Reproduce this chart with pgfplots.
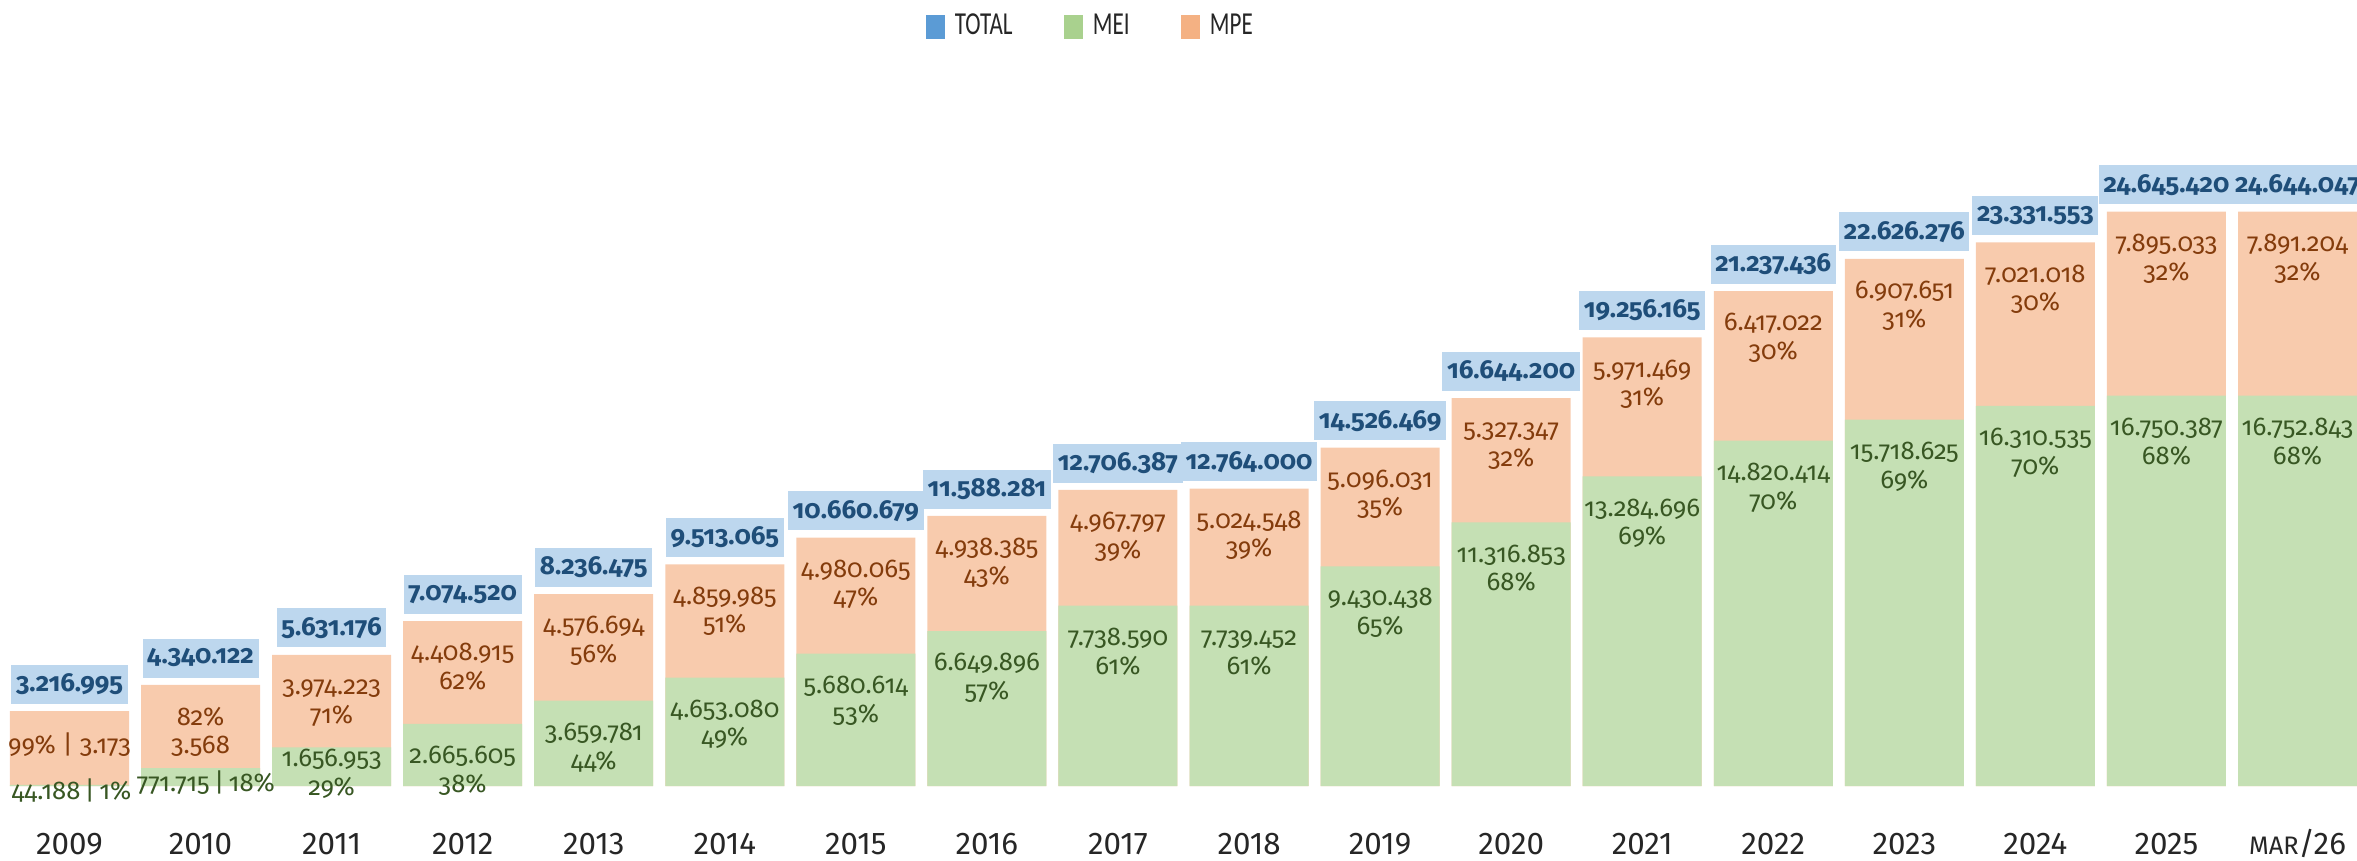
\documentclass[border=0pt]{standalone}
\usepackage{pgfplots}
\pgfplotsset{compat=1.18}
\usepackage{pgfplotstable}
\usepackage{fontspec}
\setmainfont{Fira Sans}
\newfontfamily\lblfont[Numbers=OldStyle]{Fira Sans}
\newfontfamily\legfont[FakeStretch=0.72]{Carlito}
\definecolor{greenF}{HTML}{C5E0B4}
\definecolor{orangeF}{HTML}{F8CBAD}
\definecolor{blueF}{HTML}{BDD7EE}
\definecolor{greenT}{HTML}{385723}
\definecolor{orangeT}{HTML}{843C0C}
\definecolor{blueT}{HTML}{1F4E79}
\definecolor{blueL}{HTML}{5B9BD5}
\definecolor{greenL}{HTML}{A9D18E}
\definecolor{orangeL}{HTML}{F4B183}
\definecolor{yearC}{HTML}{262626}
\def\twol#1/#2\relax{\rule{0pt}{0.69em}#1\\#2}

% x; MEI; MPE; TOTAL; labels; per-point label shift for small MEI segments
\pgfplotstableread[col sep=semicolon]{
x;mei;mpe;tot;meiL;mpeL;totL;mdy;mdx
0;44188;3172807;3216995;44.188\,|\,1\%/;99\% | 3.173/;3.216.995;2.1;0.6
1;771715;3568407;4340122;771.715\,|\,18\%/;82\%/3.568;4.340.122;-0.6;1.6
2;1656953;3974223;5631176;1.656.953/29\%;3.974.223/71\%;5.631.176;-0.3;0
3;2665605;4408915;7074520;2.665.605/38\%;4.408.915/62\%;7.074.520;-6.4;0
4;3659781;4576694;8236475;3.659.781/44\%;4.576.694/56\%;8.236.475;-6.4;0
5;4653080;4859985;9513065;4.653.080/49\%;4.859.985/51\%;9.513.065;-6.4;0
6;5680614;4980065;10660679;5.680.614/53\%;4.980.065/47\%;10.660.679;-6.4;0
7;6649896;4938385;11588281;6.649.896/57\%;4.938.385/43\%;11.588.281;-6.4;0
8;7738590;4967797;12706387;7.738.590/61\%;4.967.797/39\%;12.706.387;-6.4;0
9;7739452;5024548;12764000;7.739.452/61\%;5.024.548/39\%;12.764.000;-6.4;0
10;9430438;5096031;14526469;9.430.438/65\%;5.096.031/35\%;14.526.469;-6.4;0
11;11316853;5327347;16644200;11.316.853/68\%;5.327.347/32\%;16.644.200;-6.4;0
12;13284696;5971469;19256165;13.284.696/69\%;5.971.469/31\%;19.256.165;-6.4;0
13;14820414;6417022;21237436;14.820.414/70\%;6.417.022/30\%;21.237.436;-6.4;0
14;15718625;6907651;22626276;15.718.625/69\%;6.907.651/31\%;22.626.276;-6.4;0
15;16310535;7021018;23331553;16.310.535/70\%;7.021.018/30\%;23.331.553;-6.4;0
16;16750387;7895033;24645420;16.750.387/68\%;7.895.033/32\%;24.645.420;-6.4;0
17;16752843;7891204;24644047;16.752.843/68\%;7.891.204/32\%;24.644.047;-6.4;0
}\data

\begin{document}
\begin{tikzpicture}
\useasboundingbox (0pt,-22.2pt) rectangle (707.1pt,235.8pt);
\begin{axis}[
  at={(0pt,0pt)}, anchor=south west,
  scale only axis, width=707.1pt, height=235.8pt,
  ybar, bar width=0.908, bar shift=0pt,
  xmin=-0.5303, xmax=17.454, ymin=0, ymax=33730000,
  enlargelimits=false, clip=false,
  axis line style={draw=none}, tick style={draw=none},
  ytick=\empty,
  xtick={0,...,17},
  xticklabels={2009,2010,2011,2012,2013,2014,2015,2016,2017,2018,2019,2020,2021,2022,2023,2024,2025,{{\fontsize{7.6}{8}\selectfont MAR}/26}},
  xticklabel style={font=\fontsize{9.4}{10}\selectfont, text=yearC, anchor=base, yshift=-16.2pt, inner sep=0pt},
  legend style={at={(0.3924,0.9656)}, anchor=west, draw=none, fill=none,
    inner sep=0pt, legend columns=3, font=\legfont\fontsize{9.6}{11}\selectfont, text=yearC,
    /tikz/every odd column/.append style={column sep=3pt},
    /tikz/every even column/.append style={column sep=15.3pt},
    nodes={inner sep=0pt}},
]
\addlegendimage{legend image code/.code={\fill[blueL] (0pt,-3.3pt) rectangle (5.4pt,3.3pt);}}
\addlegendentry{TOTAL}
\addlegendimage{legend image code/.code={\fill[greenL] (0pt,-3.3pt) rectangle (5.4pt,3.3pt);}}
\addlegendentry{MEI}
\addlegendimage{legend image code/.code={\fill[orangeL] (0pt,-3.3pt) rectangle (5.4pt,3.3pt);}}
\addlegendentry{MPE}

% MPE segment: drawn from 0 up to the total (MEI + MPE), MEI drawn over it
\addplot[forget plot, fill=orangeF, draw=none,
  point meta=explicit symbolic,
  nodes near coords={\expandafter\twol\pgfplotspointmeta\relax},
  every node near coord/.append style={anchor=north, inner sep=0pt, align=center,
    font=\lblfont\fontsize{7.7}{8.6}\selectfont, text=orangeT, yshift=-6.4pt}
] table[x=x,y=tot,meta=mpeL]{\data};

\addplot[forget plot, fill=greenF, draw=none,
  point meta=explicit symbolic,
  visualization depends on={\thisrow{mdy}\as\ldy},
  visualization depends on={\thisrow{mdx}\as\ldx},
  nodes near coords={\expandafter\twol\pgfplotspointmeta\relax},
  every node near coord/.append style={anchor=north, inner sep=0pt, align=center,
    font=\lblfont\fontsize{7.7}{8.6}\selectfont, text=greenT, yshift=\ldy pt, xshift=\ldx pt}
] table[x=x,y=mei,meta=meiL]{\data};

\addplot[forget plot, fill=none, draw=none,
  point meta=explicit symbolic,
  nodes near coords={\pgfplotspointmeta},
  every node near coord/.append style={anchor=south, fill=blueF, text=blueT,
    font=\lblfont\bfseries\fontsize{7.8}{8.6}\selectfont,
    minimum height=11.7pt, inner xsep=1.4pt, inner ysep=0pt, yshift=2pt}
] table[x=x,y=tot,meta=totL]{\data};
\end{axis}
\end{tikzpicture}
\end{document}
